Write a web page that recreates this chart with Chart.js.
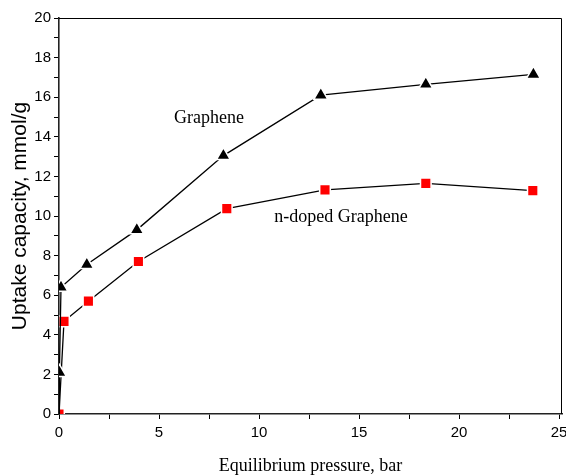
<!DOCTYPE html>
<html>
<head>
<meta charset="utf-8">
<script src="https://cdn.jsdelivr.net/npm/chart.js@4/dist/chart.umd.min.js"></script>
<style>
  html, body { margin: 0; padding: 0; background: #fff; }
  #wrap { width: 566px; height: 475px; position: relative; }
</style>
</head>
<body>
<div id="wrap"><canvas id="c" width="566" height="475"></canvas></div>
<script>
// ---- data ----
const grapheneX = [0, 0.02, 0.1, 1.39, 3.89, 8.22, 13.09, 18.34, 23.72];
const grapheneY = [0, 2.1, 6.4, 7.55, 9.3, 13.05, 16.1, 16.65, 17.15];
const ndopedX = [0, 0.25, 1.47, 3.97, 8.39, 13.3, 18.34, 23.69];
const ndopedY = [0, 4.68, 5.7, 7.7, 10.37, 11.32, 11.65, 11.28];
const xTickValues = [0, 2.5, 5, 7.5, 10, 12.5, 15, 17.5, 20, 22.5, 25];
const xLabelValues = [0, 5, 10, 15, 20, 25];
const yLabelValues = [0, 2, 4, 6, 8, 10, 12, 14, 16, 18, 20];
const seriesNames = ['Graphene', 'n-doped Graphene'];
const xTitle = 'Equilibrium pressure, bar';
const yTitle = 'Uptake capacity, mmol/g';
// annotation anchors in data coordinates
const annotations = [
  { text: 'Graphene', x: 7.5, y: 14.95 },
  { text: 'n-doped Graphene', x: 14.1, y: 9.95 }
];

const toPts = (xs, ys) => xs.map((x, i) => ({ x: x, y: ys[i] }));

const framePlugin = {
  id: 'frame',
  afterDatasetsDraw(chart) {
    const { ctx, chartArea: a } = chart;
    ctx.save();
    ctx.strokeStyle = '#000';
    ctx.lineWidth = 1;
    ctx.beginPath();
    ctx.moveTo(a.left, Math.round(a.top) + 0.5);
    ctx.lineTo(Math.round(a.right) - 0.5, Math.round(a.top) + 0.5);
    ctx.lineTo(Math.round(a.right) - 0.5, a.bottom);
    ctx.stroke();
    // annotations
    ctx.fillStyle = '#000';
    ctx.font = '18px "Liberation Serif", "Times New Roman", serif';
    ctx.textAlign = 'center';
    ctx.textBaseline = 'middle';
    const xs = chart.scales.x, ys = chart.scales.y;
    annotations.forEach(an => {
      ctx.fillText(an.text, xs.getPixelForValue(an.x), ys.getPixelForValue(an.y));
    });
    ctx.restore();
  }
};

const tickFont = { family: '"Liberation Sans", Arial, sans-serif', size: 15 };

new Chart(document.getElementById('c'), {
  type: 'line',
  data: {
    datasets: [
      {
        label: seriesNames[0],
        data: toPts(grapheneX, grapheneY),
        borderColor: '#000',
        borderWidth: 1.3,
        backgroundColor: '#000',
        pointStyle: 'triangle',
        pointRadius: ctx => ctx.dataIndex === 0 ? 0 : 8,
        pointBorderColor: '#fff',
        pointBorderWidth: 1.5,
        pointBackgroundColor: '#000',
        tension: 0,
        fill: false
      },
      {
        label: seriesNames[1],
        data: toPts(ndopedX, ndopedY),
        borderColor: '#000',
        borderWidth: 1.3,
        backgroundColor: '#ff0000',
        pointStyle: 'rect',
        pointRadius: 7.5,
        pointBorderColor: '#fff',
        pointBorderWidth: 1.5,
        pointBackgroundColor: '#ff0000',
        tension: 0,
        fill: false
      }
    ]
  },
  options: {
    responsive: false,
    animation: false,
    devicePixelRatio: 1,
    layout: { autoPadding: false, padding: { top: 18, right: 4, left: 0, bottom: 0 } },
    plugins: { legend: { display: false }, tooltip: { enabled: false } },
    scales: {
      x: {
        type: 'linear',
        min: 0,
        max: 25.15,
        afterBuildTicks: s => { s.ticks = xTickValues.map(v => ({ value: v })); },
        afterFit: s => { s.height = 61; s.paddingLeft = 0; s.paddingRight = 0; },
        ticks: {
          autoSkip: false,
          maxRotation: 0,
          minRotation: 0,
          padding: 5,
          color: '#000',
          font: tickFont,
          callback: v => xLabelValues.includes(v) ? String(v) : ''
        },
        grid: { drawOnChartArea: false, drawTicks: true, tickLength: 5, color: '#000', lineWidth: 1 },
        border: { display: true, color: '#222', width: 1.6 },
        title: {
          display: true,
          text: xTitle,
          color: '#000',
          font: { family: '"Liberation Serif", "Times New Roman", serif', size: 18, lineHeight: 1 },
          padding: { top: 0, bottom: 0 }
        }
      },
      y: {
        type: 'linear',
        min: 0,
        max: 20,
        afterBuildTicks: s => {
          const t = [];
          for (let i = 0; i < yLabelValues.length; i++) {
            t.push({ value: yLabelValues[i] });
            if (i < yLabelValues.length - 1) t.push({ value: (yLabelValues[i] + yLabelValues[i + 1]) / 2 });
          }
          s.ticks = t;
        },
        afterFit: s => { s.width = 59; s.paddingTop = 0; s.paddingBottom = 0; },
        ticks: {
          autoSkip: false,
          padding: 3,
          color: '#000',
          font: tickFont,
          callback: v => yLabelValues.includes(v) ? String(v) : ''
        },
        grid: { drawOnChartArea: false, drawTicks: true, tickLength: 5, color: '#000', lineWidth: 1 },
        border: { display: true, color: '#222', width: 1.6 },
        title: {
          display: true,
          text: yTitle,
          color: '#000',
          font: { family: '"Liberation Sans", Arial, sans-serif', size: 21, lineHeight: 1 },
          padding: { top: 10, bottom: 0 }
        }
      }
    }
  },
  plugins: [framePlugin]
});
</script>
</body>
</html>
